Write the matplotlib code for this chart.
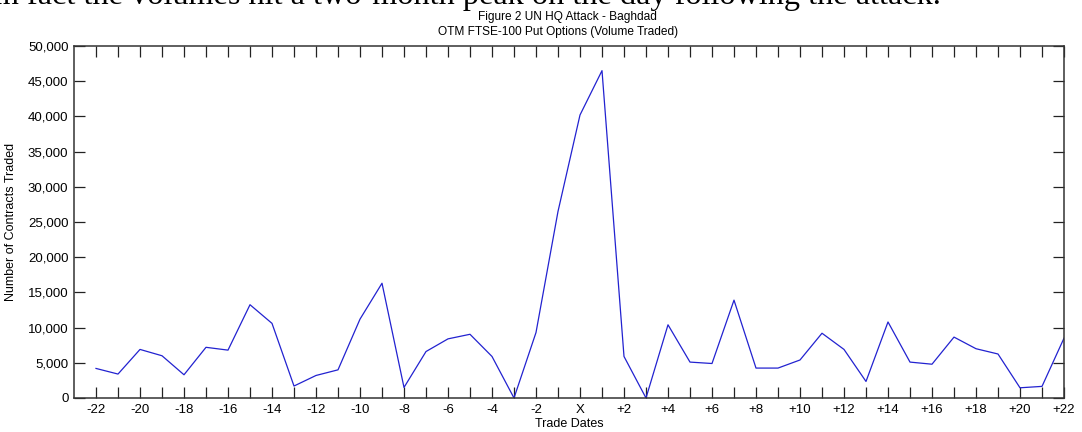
import matplotlib
matplotlib.use("Agg")
import matplotlib.pyplot as plt
import numpy as np

days = list(range(-22, 23))
volumes = [4200, 3400, 6900, 6000, 3300, 7200, 6800, 13250, 10600, 1700,
           3200, 4000, 11200, 16300, 1500, 6600, 8400, 9050, 5900, 0,
           9300, 26500, 40200, 46500, 5900, 0, 10400, 5100, 4900, 13900,
           4250, 4250, 5400, 9200, 6900, 2350, 10800, 5100, 4800, 8650,
           7000, 6250, 1450, 1650, 8500]
y_ticks = list(range(0, 50001, 5000))
x_tick_labels = [("X" if d == 0 else (f"+{d}" if d > 0 else f"{d}")) if d % 2 == 0 else "" for d in days]

title1 = "Figure 2 UN HQ Attack - Baghdad"
title2 = "OTM FTSE-100 Put Options (Volume Traded)"
xlabel = "Trade Dates"
ylabel = "Number of Contracts Traded"
caption = "In fact the volumes hit a two-month peak on the day following the attack."

plt.rcParams['font.family'] = ['Liberation Sans', 'DejaVu Sans']

W, H = 1082, 432
fig = plt.figure(figsize=(W / 100, H / 100), dpi=100)
ax = fig.add_axes([74 / W, 1 - 398 / H, (1064 - 74) / W, (398 - 46) / H])

ax.plot(days, volumes, color='#2222d0', lw=0.9)
ax.set_xlim(-23, 22)
ax.set_ylim(0, 50000)
ax.set_xticks(days)
ax.set_xticklabels(x_tick_labels)
ax.set_yticks(y_ticks)
ax.set_yticklabels([f"{v:,}" for v in y_ticks])
ax.tick_params(direction='in', length=8, width=0.9, color='#222222',
               top=True, right=True, labelsize=9.5, pad=4)
for s in ax.spines.values():
    s.set_color('#333333')
    s.set_linewidth(1.1)

ax.set_xlabel(xlabel, fontsize=9, labelpad=2)
ax.set_ylabel(ylabel, fontsize=9, labelpad=0)
ax.yaxis.set_label_coords(-(74 - 17) / (1064 - 74), 0.5)

fig.text(567 / W, 1 - 17 / H, title1, ha='center', va='center', fontsize=8.6)
fig.text(558 / W, 1 - 32 / H, title2, ha='center', va='center', fontsize=8.6)
fig.text(-8 / W, 1 - 4 / H, caption, ha='left', va='baseline', fontsize=23.2,
         family=['Liberation Serif', 'DejaVu Serif'])

fig.savefig("out.png", dpi=100)
